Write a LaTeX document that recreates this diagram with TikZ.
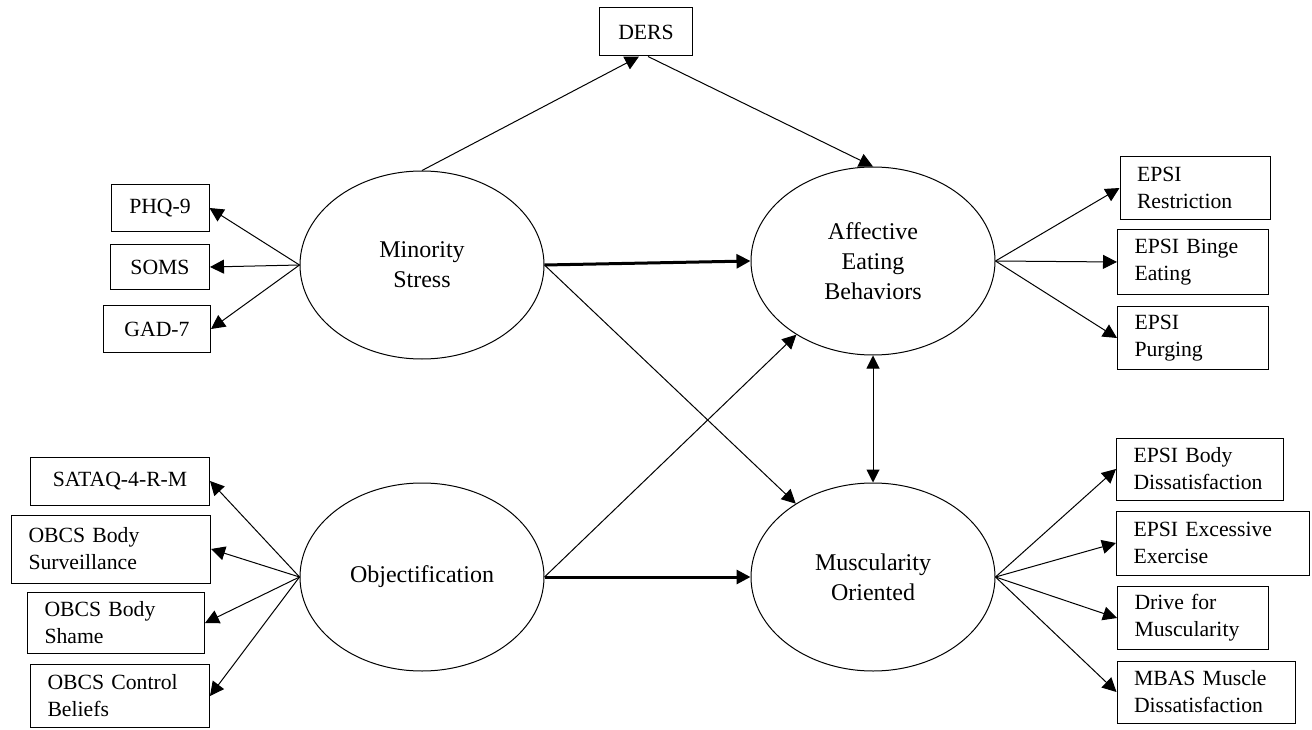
\documentclass[tikz,border=0pt]{standalone}
\usepackage{fontspec}
\setmainfont{Liberation Serif}
\usetikzlibrary{shapes.geometric, arrows.meta}
\newcommand{\latfont}{\fontsize{24}{30}\selectfont}
\newcommand{\indfont}{\fontsize{21.7}{27}\selectfont}

\begin{document}
\begin{tikzpicture}[x=1pt, y=-1pt,
  lat/.style={draw, ellipse, line width=1pt, align=center, font=\latfont, minimum width=244pt, minimum height=188pt, inner sep=0pt},
  ind/.style={draw, line width=1pt, font=\indfont, inner xsep=17pt, inner ysep=0pt, minimum height=62pt},
  indl/.style={ind, align=left},
  arr/.style={-{Triangle[length=14pt, width=14pt]}, line width=1pt},
  arrbold/.style={arr, line width=3pt},
  dbl/.style={{Triangle[length=13pt, width=13pt]}-{Triangle[length=13pt, width=13pt]}, line width=1pt}
]
\useasboundingbox (0,0) rectangle (1312,730);

% latent variables
\node[lat] (ms) at (422,265) {Minority\\Stress};
\node[lat] (ob) at (422,577) {Objectification};
\node[lat] (aeb) at (873,261) {Affective\\Eating\\Behaviors};
\node[lat] (mo) at (873,577) {Muscularity\\Oriented};

% mediator
\node[ind, minimum width=93pt, minimum height=48pt] (ders) at (646,32) {DERS};

% minority stress indicators
\node[ind, minimum width=98pt, minimum height=47pt] (phq) at (160,208) {PHQ-9};
\node[ind, minimum width=99pt, minimum height=44pt] (soms) at (160,267) {SOMS};
\node[ind, minimum width=107pt, minimum height=47pt] (gad) at (157,329) {GAD-7};

% objectification indicators
\node[ind, minimum width=179pt, minimum height=48pt] (sataq) at (120,481) {SATAQ-4-R-M};
\node[indl, text width=165pt, minimum height=68pt] (surv) at (111,549) {OBCS Body\\Surveillance};
\node[indl, text width=143pt, minimum height=61pt] (shame) at (116,623) {OBCS Body\\Shame};
\node[indl, text width=145pt, minimum height=63pt] (ctrl) at (120,696) {OBCS Control\\Beliefs};

% eating indicators
\node[indl, text width=116pt, minimum height=63pt] (restr) at (1195,188) {EPSI\\Restriction};
\node[indl, text width=117pt, minimum height=65pt] (binge) at (1193,262) {EPSI Binge\\Eating};
\node[indl, text width=117pt, minimum height=63pt] (purg) at (1193,338) {EPSI\\Purging};

% muscularity indicators
\node[indl, text width=133pt] (bodyd) at (1200,469) {EPSI Body\\Dissatisfaction};
\node[indl, text width=159pt, minimum height=64pt] (exer) at (1213,543) {EPSI Excessive\\Exercise};
\node[indl, text width=117pt, minimum height=63pt] (drive) at (1193,618) {Drive for\\Muscularity};
\node[indl, text width=144pt] (mbas) at (1206,692) {MBAS Muscle\\Dissatisfaction};

% loadings
\foreach \b in {phq, soms, gad}
  \draw[arr] (ms.west) -- (\b.east);
\foreach \b in {sataq, surv, shame, ctrl}
  \draw[arr] (ob.west) -- (\b.east);
\foreach \b in {restr, binge, purg}
  \draw[arr] (aeb.east) -- (\b.west);
\foreach \b in {bodyd, exer, drive, mbas}
  \draw[arr] (mo.east) -- (\b.west);

% structural paths
\draw[arr] (ms.north) -- ([xshift=-7pt]ders.south);
\draw[arr] ([xshift=2pt]ders.south) -- (aeb.north);
\draw[arrbold] (ms.east) -- (aeb.west);
\draw[arrbold] (ob.east) -- (mo.west);
\draw[arr] (ms.east) -- (mo);
\draw[arr] (ob.east) -- (aeb);
\draw[dbl] (aeb.south) -- (mo.north);
\end{tikzpicture}
\end{document}
